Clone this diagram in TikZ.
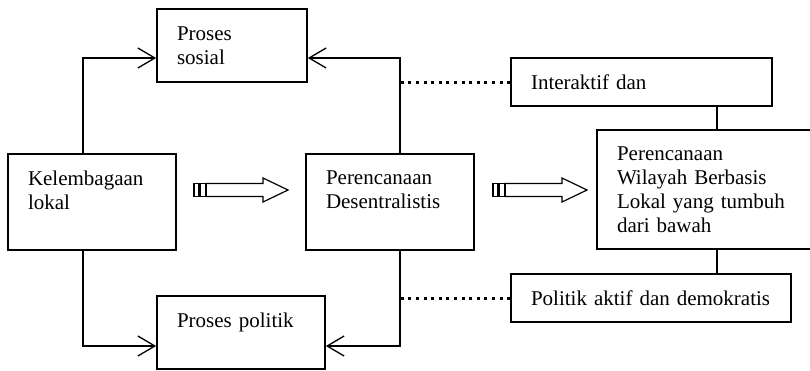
\documentclass[tikz,border=0pt]{standalone}
\usepackage{fontspec}
\setmainfont{Liberation Serif}
\usetikzlibrary{arrows.meta}

\begin{document}
\begin{tikzpicture}[line join=miter,
  x={(1pt,0pt)},y={(0pt,-1pt)},   % pixel grid, y goes down
  box/.style={draw,line width=1.7pt,align=left,inner xsep=20pt,inner ysep=0pt,
    font=\fontsize{21}{24}\selectfont},
  conn/.style={line width=1.3pt,-{Straight Barb[length=17pt,width=20pt]}},
  dotline/.style={line width=3pt,dash pattern=on 3pt off 4.6pt},
  fat/.style={line width=1.2pt}
  ]
  \useasboundingbox (0,0) rectangle (810,370);
  % BOXES
  \node[box,text width=110pt,minimum height=73pt] (sosial)     at (232,45.5)  {Proses\\sosial};
  \node[box,text width=128pt,minimum height=96pt] (lembaga)    at (92,202)    {Kelembagaan\\lokal\\~};
  \node[box,text width=128pt,minimum height=96pt] (desentral)  at (390,202)   {Perencanaan\\Desentralistis\\~};
  \node[box,text width=128pt,minimum height=73pt] (politik)    at (241,332.5) {Proses politik\\~};
  \node[box,text width=221pt,minimum height=48pt] (interaktif) at (641.5,82)  {Interaktif dan};
  \node[box,text width=200pt,minimum height=119pt] (wilayah)   at (717,189.5) {Perencanaan\\Wilayah Berbasis\\Lokal yang tumbuh\\dari bawah};
  \node[box,text width=240pt,minimum height=48pt] (demokrasi)  at (651,298)   {Politik aktif dan demokratis};
  % connectors
  \coordinate (dtop) at ([xshift=10pt]desentral.north);
  \coordinate (dbot) at ([xshift=10pt]desentral.south);
  \draw[conn] ([xshift=-9pt]lembaga.north) |- ([yshift=-12.5pt]sosial.west);
  \draw[conn] (dtop) |- ([yshift=-12.5pt]sosial.east);
  \draw[conn] ([xshift=-9pt]lembaga.south) |- ([yshift=-13.5pt]politik.west);
  \draw[conn] (dbot) |- ([yshift=-13.5pt]politik.east);
  \draw[dotline] (interaktif.west) -- (interaktif.west -| dtop);
  \draw[dotline] (demokrasi.west) -- (demokrasi.west -| dbot);
  \draw[line width=1.3pt] (wilayah.north) -- (wilayah.north |- interaktif.south);
  \draw[line width=1.3pt] (wilayah.south) -- (wilayah.south |- demokrasi.north);
  % fat arrows
  \foreach \s in {194,493} {
    \draw[fat] (\s,183.5) rectangle ++(4.5,13);
    \draw[fat] ({\s+6},183.5) rectangle ++(6,13);
    \draw[fat] ({\s+12},183.5) -- ++(57,0) -- ++(0,-5.5) -- ({\s+94},190)
      -- ({\s+69},202) -- ++(0,-5.5) -- ({\s+12},196.5) -- cycle;
  }
\end{tikzpicture}
\end{document}
